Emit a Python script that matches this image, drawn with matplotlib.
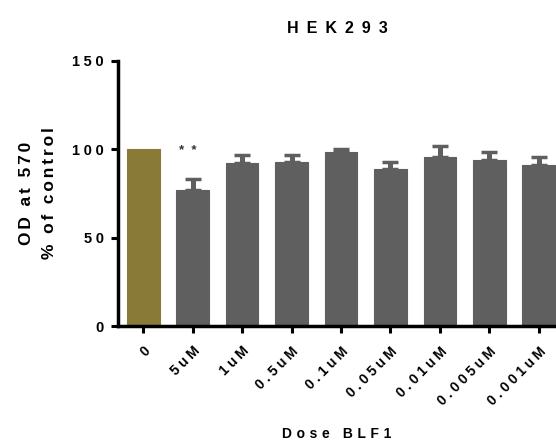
import matplotlib
matplotlib.use("Agg")
import matplotlib.pyplot as plt

# values
doses = ["0", "5uM", "1uM", "0.5uM", "0.1uM", "0.05uM", "0.01uM", "0.005uM", "0.001uM"]
means = [100.0, 77.0, 92.1, 92.6, 98.3, 88.7, 95.8, 94.0, 91.1]
sems = [0.0, 6.2, 4.5, 4.0, 2.0, 4.3, 6.3, 4.5, 4.4]
bar_colors = ["#8a7a38"] + ["#5f5f5f"] * 8

plt.rcParams['font.family'] = ['Liberation Sans', 'DejaVu Sans']
plt.rcParams['font.weight'] = 'bold'


def track(s, sp="\u2005"):
    # fake letter spacing by putting a narrow space between characters
    return sp.join(s)


fig = plt.figure(figsize=(5.56, 4.44), dpi=100)
ax = fig.add_axes([118 / 556, 118 / 444, 438 / 556, 265 / 444])

x = list(range(len(doses)))
ax.bar(x, means, width=0.66, color=bar_colors, edgecolor=bar_colors, linewidth=0.8, zorder=2)
ax.errorbar(x[1:], means[1:], yerr=[[0] * 8, sems[1:]], fmt='none',
            ecolor="#5f5f5f", elinewidth=3.6, capsize=6, capthick=2.5, zorder=1)

ax.text(0.9, 99, "*  *", ha='center', va='center', fontsize=9.5, color="#333333")

ax.set_ylim(0, 150)
ax.set_xlim(-0.51, 8.35)
ax.set_yticks([0, 50, 100, 150])
ax.set_xticks(x)
ax.set_xticklabels([track(d, "\u2005") for d in doses], rotation=45, ha='right',
                   va='top', rotation_mode='anchor', fontsize=10, fontweight='bold')
ax.set_yticklabels([track(str(v), "\u2005") for v in [0, 50, 100, 150]],
                   fontsize=10.5, fontweight='bold')

ax.tick_params(axis='both', width=2.2, length=5, direction='out', color='black')
ax.tick_params(axis='x', pad=8)
ax.tick_params(axis='y', pad=5)
for side in ['top', 'right']:
    ax.spines[side].set_visible(False)
for side in ['left', 'bottom']:
    ax.spines[side].set_linewidth(2.5)

ax.set_title(track("HEK293", "\u2002"), fontsize=11.5, fontweight='bold', pad=20)
ax.set_xlabel(track("Dose BLF1", "\u2004"), fontsize=10, fontweight='bold', labelpad=14)
ax.set_ylabel(track("OD at 570", "\u2006") + "\n" + track("% of control", "\u2006"),
              fontsize=12.5, fontweight='bold', labelpad=11, linespacing=1.65)

fig.savefig("out.png", dpi=100)
